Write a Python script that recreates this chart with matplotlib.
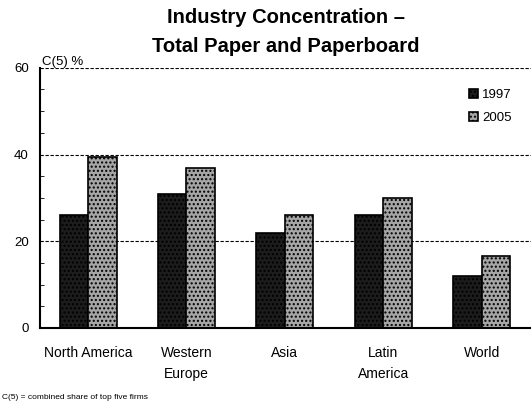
import numpy as np
import matplotlib
matplotlib.use("Agg")
import matplotlib.pyplot as plt

regions = ["North America", "Western\nEurope", "Asia", "Latin\nAmerica", "World"]
share_1997 = [26, 31, 22, 26, 12]
share_2005 = [39.5, 37, 26, 30, 16.5]
years = ["1997", "2005"]

plt.rcParams['font.family'] = ['Liberation Sans', 'DejaVu Sans']
plt.rcParams['hatch.color'] = '#555555'

fig = plt.figure(figsize=(5.31, 4.11), dpi=100)
ax = fig.add_axes([0.075, 0.202, 0.925, 0.633])

x = np.arange(len(regions))
w = 0.29
ax.bar(x - w/2, share_1997, w, color='#1c1c1c', edgecolor='black', linewidth=1.2, hatch='....', label=years[0])
ax.bar(x + w/2, share_2005, w, color='#a6a6a6', edgecolor='black', linewidth=1.2, hatch='....', label=years[1])

ax.set_xlim(-0.49, 4.5)
ax.set_ylim(0, 60)
ax.set_yticks([0, 20, 40, 60])
ax.set_yticks(np.arange(0, 61, 5), minor=True)
ax.tick_params(axis='y', which='major', length=0, labelsize=9.5, pad=8)
ax.tick_params(axis='y', which='minor', direction='in', length=3)
ax.set_xticks(x)
ax.set_xticklabels(regions, fontsize=10, linespacing=1.6, va='top')
ax.tick_params(axis='x', length=0, pad=13)
for yv in [20, 40, 60]:
    ax.axhline(yv, color='black', linestyle=(0, (3, 1.5)), linewidth=0.8, zorder=0)
ax.spines['top'].set_visible(False)
ax.spines['right'].set_visible(False)
ax.spines['left'].set_linewidth(1.5)
ax.spines['bottom'].set_linewidth(1.5)

ax.legend(loc='upper right', bbox_to_anchor=(0.985, 0.965), frameon=False, fontsize=9.5,
          handlelength=0.7, handleheight=0.7, handletextpad=0.3, labelspacing=0.8)

fig.text(0.538, 0.958, "Industry Concentration \u2013", ha='center', va='center',
         fontsize=14.5, fontweight='bold')
fig.text(0.538, 0.888, "Total Paper and Paperboard", ha='center', va='center',
         fontsize=14.5, fontweight='bold')
fig.text(0.079, 0.85, "C(5) %", ha='left', va='center', fontsize=9.5)
fig.text(0.003, 0.025, "C(5) = combined share of top five firms", ha='left', va='bottom', fontsize=6)

fig.savefig("out.png", dpi=100)
